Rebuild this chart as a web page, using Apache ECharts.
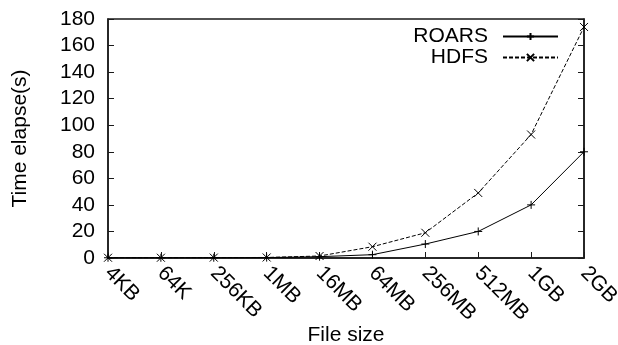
<!DOCTYPE html>
<html>
<head>
<meta charset="utf-8">
<script src="https://cdn.jsdelivr.net/npm/echarts@6/dist/echarts.min.js"></script>
<style>html,body{margin:0;padding:0;background:#fff;}#c{width:618px;height:345px;}</style>
</head>
<body>
<div id="c"></div>
<script>
const categories = ['4KB','64K','256KB','1MB','16MB','64MB','256MB','512MB','1GB','2GB'];
const roars = [0.2, 0.2, 0.2, 0.3, 1, 2.5, 10.5, 20, 40, 80];
const hdfs = [0.2, 0.2, 0.3, 0.4, 1.5, 8.5, 19, 49, 93, 174];
const yTicks = {min: 0, max: 180, interval: 20};

const FONT = '"Liberation Sans", Arial, sans-serif';
const FS = 21;
const chart = echarts.init(document.getElementById('c'), null, {renderer: 'canvas'});
const axisLineStyle = {color: '#1a1a1a', width: 1.5};
chart.setOption({
  animation: false,
  backgroundColor: '#fff',
  textStyle: {fontFamily: FONT, color: '#000'},
  grid: {left: 108, right: 34, top: 19, bottom: 87, containLabel: false, outerBoundsMode: 'none',
         show: true, borderColor: '#1a1a1a', borderWidth: 1.5},
  legend: {
    orient: 'vertical', align: 'right', right: 54, top: 21,
    itemWidth: 55, itemHeight: 9, itemGap: 0,
    textStyle: {fontFamily: FONT, fontSize: FS, lineHeight: 21, color: '#000', padding: [0, 10, 0, 0]},
    data: ['ROARS', 'HDFS']
  },
  xAxis: {
    type: 'category', data: categories, boundaryGap: false,
    name: 'File size', nameLocation: 'middle', nameGap: 67, nameMoveOverlap: false,
    nameTextStyle: {fontFamily: FONT, fontSize: FS, color: '#000'},
    axisLine: {lineStyle: axisLineStyle},
    axisTick: {show: true, inside: true, length: 6, lineStyle: {color: '#1a1a1a'}},
    axisLabel: {rotate: -45, fontFamily: FONT, fontSize: FS, color: '#000', margin: 12, hideOverlap: false},
    splitLine: {show: false}
  },
  yAxis: [{
    type: 'value', min: yTicks.min, max: yTicks.max, interval: yTicks.interval,
    name: 'Time elapse(s)', nameLocation: 'middle', nameGap: 77, nameMoveOverlap: false,
    nameTextStyle: {fontFamily: FONT, fontSize: FS, color: '#000'},
    axisLine: {show: true, lineStyle: axisLineStyle},
    axisTick: {show: true, inside: true, length: 6, lineStyle: {color: '#1a1a1a'}},
    axisLabel: {fontFamily: FONT, fontSize: FS, color: '#000', margin: 13},
    splitLine: {show: false}
  }, {
    type: 'value', position: 'right', min: yTicks.min, max: yTicks.max, interval: yTicks.interval,
    axisLine: {show: true, lineStyle: axisLineStyle},
    axisTick: {show: true, inside: true, length: 6, lineStyle: {color: '#1a1a1a'}},
    axisLabel: {show: false},
    splitLine: {show: false}
  }],
  series: [{
    name: 'ROARS', type: 'line', data: roars,
    symbol: 'path://M5,0 L5,10 M0,5 L10,5', symbolSize: 8, showSymbol: true,
    lineStyle: {color: '#000', width: 1, type: 'solid'},
    itemStyle: {color: '#000', borderColor: '#000', borderWidth: 1}
  }, {
    name: 'HDFS', type: 'line', data: hdfs,
    symbol: 'path://M0,0 L10,10 M10,0 L0,10', symbolSize: 8, showSymbol: true,
    lineStyle: {color: '#000', width: 1, type: [4, 2]},
    itemStyle: {color: '#000', borderColor: '#000', borderWidth: 1}
  }]
});
</script>
</body>
</html>
